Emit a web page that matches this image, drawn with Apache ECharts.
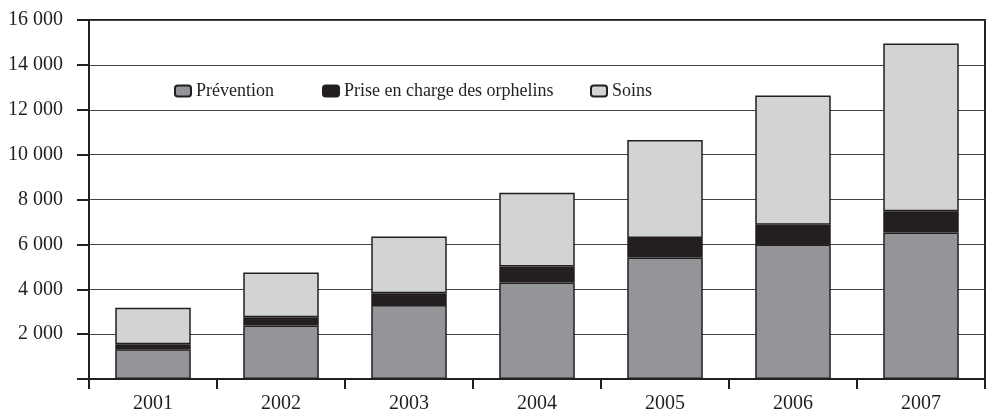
<!DOCTYPE html>
<html>
<head>
<meta charset="utf-8">
<script src="https://cdn.jsdelivr.net/npm/echarts@6/dist/echarts.min.js"></script>
<style>html,body{margin:0;padding:0;background:#fff}#c{width:988px;height:414px}</style>
</head>
<body>
<div id="c"></div>
<script>
const categories = ['2001','2002','2003','2004','2005','2006','2007'];
const prevention = [1330, 2380, 3300, 4300, 5420, 6000, 6530];
const orphelins  = [220, 370, 520, 710, 860, 870, 950];
const soins      = [1630, 2000, 2530, 3290, 4370, 5760, 7470];
const yTicks = [0, 2000, 4000, 6000, 8000, 10000, 12000, 14000, 16000];

const FONT = '"Liberation Serif","DejaVu Serif",serif';
const DARK = '#231f20';
const chart = echarts.init(document.getElementById('c'));
function fmt(v){ return v === 0 ? '' : String(v).replace(/\B(?=(\d{3})+(?!\d))/g, ' '); }
function legend(name, left){
  return {
    data: [name], left: left, top: 77, itemWidth: 16, itemHeight: 11, itemGap: 0,
    textStyle: {fontFamily: FONT, fontSize: 18, color: DARK},
    selectedMode: false
  };
}
const barBase = {type: 'bar', stack: 'total', barCategoryGap: '41%',
  itemStyle: {borderColor: DARK, borderWidth: 1.5}};
chart.setOption({
  animation: false,
  legend: [legend('Prévention', 169), legend('Prise en charge des orphelins', 317), legend('Soins', 585)],
  grid: {left: 89, right: 3, top: 20, bottom: 33, show: true, borderColor: DARK, borderWidth: 2, backgroundColor: 'transparent'},
  xAxis: {
    type: 'category', data: categories,
    axisLine: {lineStyle: {color: DARK, width: 2}},
    axisTick: {show: true, length: 10, lineStyle: {color: DARK, width: 2}},
    axisLabel: {fontFamily: FONT, fontSize: 20, color: DARK, margin: 15}
  },
  yAxis: {
    type: 'value', min: yTicks[0], max: yTicks[yTicks.length-1], interval: 2000,
    axisLine: {show: true, lineStyle: {color: DARK, width: 2}},
    axisTick: {show: true, inside: false, length: 12, lineStyle: {color: DARK, width: 2}},
    axisLabel: {fontFamily: FONT, fontSize: 20, color: DARK, margin: 26, formatter: fmt},
    splitLine: {lineStyle: {color: '#444', width: 1.2}}
  },
  series: [
    Object.assign({}, barBase, {name: 'Prévention', data: prevention, itemStyle: Object.assign({}, barBase.itemStyle, {color: '#939598'})}),
    Object.assign({}, barBase, {name: 'Prise en charge des orphelins', data: orphelins, itemStyle: Object.assign({}, barBase.itemStyle, {color: DARK})}),
    Object.assign({}, barBase, {name: 'Soins', data: soins, itemStyle: Object.assign({}, barBase.itemStyle, {color: '#d1d3d4'})})
  ]
});
</script>
</body>
</html>
